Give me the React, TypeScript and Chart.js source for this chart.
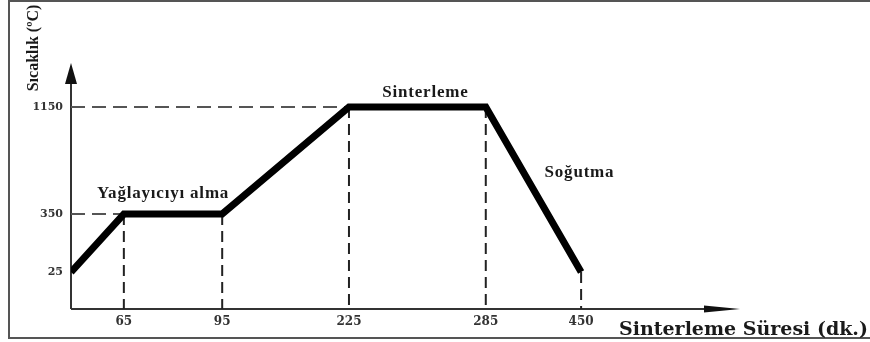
import { useEffect, useRef } from 'react';
import { Chart, registerables, LinearScale } from 'chart.js';

Chart.register(...registerables);

// Sintering cycle: time (min) against furnace temperature (°C)
const TIME_MIN = [0, 65, 95, 225, 285, 450];
const TEMP_C = [25, 350, 350, 1150, 1150, 25];
const TIME_TICKS = [65, 95, 225, 285, 450];
const TEMP_TICKS = [25, 350, 1150];
const PHASE_LABELS = ['Yağlayıcıyı alma', 'Sinterleme', 'Soğutma'];
const Y_TITLE = 'Sıcaklık (ºC)';
const X_TITLE = 'Sinterleme Süresi (dk.)';

// The diagram is schematic: each axis is piecewise linear between these stops
// (value -> fraction of the axis length).
const AXIS_STOPS: Record<string, { values: number[]; fractions: number[] }> = {
  x: { values: [0, 65, 95, 225, 285, 450, 520], fractions: [0, 0.079, 0.226, 0.4155, 0.62, 0.7625, 1] },
  y: { values: [0, 25, 350, 1150, 1400], fractions: [0, 0.15, 0.386, 0.821, 1] },
};

function piecewise(v: number, from: number[], to: number[]) {
  if (v <= from[0]) return to[0];
  for (let i = 1; i < from.length; i++) {
    if (v <= from[i]) {
      const t = (v - from[i - 1]) / (from[i] - from[i - 1]);
      return to[i - 1] + t * (to[i] - to[i - 1]);
    }
  }
  return to[to.length - 1];
}

class SchematicScale extends LinearScale {
  static id = 'schematic';
  getPixelForValue(value: number) {
    const s = AXIS_STOPS[(this as any).id];
    return (this as any).getPixelForDecimal(piecewise(value, s.values, s.fractions));
  }
  getValueForPixel(pixel: number) {
    const s = AXIS_STOPS[(this as any).id];
    return piecewise((this as any).getDecimalForPixel(pixel), s.fractions, s.values);
  }
}
Chart.register(SchematicScale as any);

const INK = '#1a1a1a';

const decorations = {
  id: 'decorations',
  beforeDatasetsDraw(chart: any) {
    const { ctx, chartArea } = chart;
    const { left, right, top, bottom } = chartArea;
    ctx.save();
    // image frame
    ctx.strokeStyle = '#555';
    ctx.lineWidth = 2;
    ctx.beginPath();
    ctx.moveTo(870, 1);
    ctx.lineTo(9, 1);
    ctx.lineTo(9, 338);
    ctx.lineTo(870, 338);
    ctx.stroke();

    // axes with arrow heads
    ctx.strokeStyle = '#333';
    ctx.fillStyle = '#111';
    ctx.lineWidth = 2;
    ctx.beginPath();
    ctx.moveTo(left, bottom);
    ctx.lineTo(left, top + 18);
    ctx.moveTo(left, bottom);
    ctx.lineTo(right - 34, bottom);
    ctx.stroke();
    ctx.beginPath();
    ctx.moveTo(left, top);
    ctx.lineTo(left - 6, top + 21);
    ctx.lineTo(left + 6, top + 21);
    ctx.closePath();
    ctx.fill();
    ctx.beginPath();
    ctx.moveTo(right, bottom);
    ctx.lineTo(right - 36, bottom - 3.5);
    ctx.lineTo(right - 36, bottom + 3.5);
    ctx.closePath();
    ctx.fill();
    ctx.restore();
  },
  afterDraw(chart: any) {
    const { ctx } = chart;
    const pts = chart.getDatasetMeta(0).data;
    ctx.save();
    ctx.fillStyle = INK;
    ctx.textAlign = 'center';
    ctx.textBaseline = 'alphabetic';
    ctx.font = "bold 17px 'Liberation Serif'";
    (ctx as any).letterSpacing = '0.8px';
    // debinding plateau
    ctx.fillText(PHASE_LABELS[0], (pts[1].x + pts[2].x) / 2 - 10, pts[1].y - 16);
    // sintering plateau
    ctx.fillText(PHASE_LABELS[1], (pts[3].x + pts[4].x) / 2 + 8, pts[3].y - 10);
    // cooling ramp
    ctx.fillText(PHASE_LABELS[2], (pts[4].x + pts[5].x) / 2 + 46, (pts[4].y + pts[5].y) / 2 - 13);

    // axis titles
    (ctx as any).letterSpacing = '0px';
    ctx.save();
    ctx.translate(34, 48);
    ctx.rotate(-Math.PI / 2);
    ctx.textBaseline = 'middle';
    ctx.font = "bold 16px 'Liberation Serif'";
    ctx.fillText(Y_TITLE, 0, 0);
    ctx.restore();

    ctx.textAlign = 'left';
    ctx.font = "bold 19px 'DejaVu Serif'";
    ctx.fillText(X_TITLE, 619, 335);
    ctx.restore();
  },
};

export default function App() {
  const ref = useRef<HTMLCanvasElement>(null);
  useEffect(() => {
    const profile = TIME_MIN.map((x, i) => ({ x, y: TEMP_C[i] }));
    // dashed drop lines from each corner of the profile to the time axis
    const dropLines = TIME_MIN.slice(1).map((x, i) => ({
      data: [{ x, y: TEMP_C[i + 1] }, { x, y: 0 }],
      borderColor: '#222',
      borderWidth: 2,
      borderDash: [11, 6],
      pointRadius: 0,
      order: 2,
    }));
    // dashed guides from the temperature axis to the start of each hold
    const levelLines = TEMP_TICKS.filter((t) => t !== TEMP_C[0]).map((t) => ({
      data: [{ x: 0, y: t }, { x: TIME_MIN[TEMP_C.indexOf(t)], y: t }],
      borderColor: '#555',
      borderWidth: 2,
      borderDash: [14, 7],
      pointRadius: 0,
      order: 2,
    }));
    const chart = new Chart(ref.current!, {
      type: 'line',
      data: {
        datasets: [
          {
            data: profile,
            borderColor: '#000',
            borderWidth: 7,
            borderJoinStyle: 'miter',
            borderCapStyle: 'butt',
            pointRadius: 0,
            tension: 0,
            order: 0,
          } as any,
          ...dropLines,
          ...levelLines,
        ],
      },
      options: {
        animation: false,
        responsive: true,
        maintainAspectRatio: false,
        layout: { padding: { left: 0, top: 63, right: 130, bottom: 0 } },
        plugins: { legend: { display: false }, tooltip: { enabled: false } },
        scales: {
          x: {
            type: 'schematic' as any,
            min: 0,
            max: 520,
            grid: { display: false, drawTicks: false },
            border: { display: false },
            afterBuildTicks: (s: any) => {
              s.ticks = TIME_TICKS.map((value) => ({ value }));
            },
            afterFit: (s: any) => {
              s.height = 33;
            },
            ticks: {
              autoSkip: false,
              maxRotation: 0,
              padding: 6,
              color: '#333',
              font: { family: 'DejaVu Serif', size: 12, weight: 'bold' },
              callback: (v: any) => String(v),
            },
          },
          y: {
            type: 'schematic' as any,
            min: 0,
            max: 1400,
            grid: { display: false, drawTicks: false },
            border: { display: false },
            afterBuildTicks: (s: any) => {
              s.ticks = TEMP_TICKS.map((value) => ({ value }));
            },
            afterFit: (s: any) => {
              s.width = 71;
            },
            ticks: {
              autoSkip: false,
              padding: 8,
              color: '#333',
              font: { family: 'DejaVu Serif', size: 11, weight: 'bold' },
              callback: (v: any) => String(v),
            },
          },
        },
      },
      plugins: [decorations],
    });
    return () => chart.destroy();
  }, []);
  return (
    <div style={{ position: 'absolute', left: 0, top: 0, width: 870, height: 342, background: '#fff' }}>
      <canvas ref={ref} />
    </div>
  );
}
